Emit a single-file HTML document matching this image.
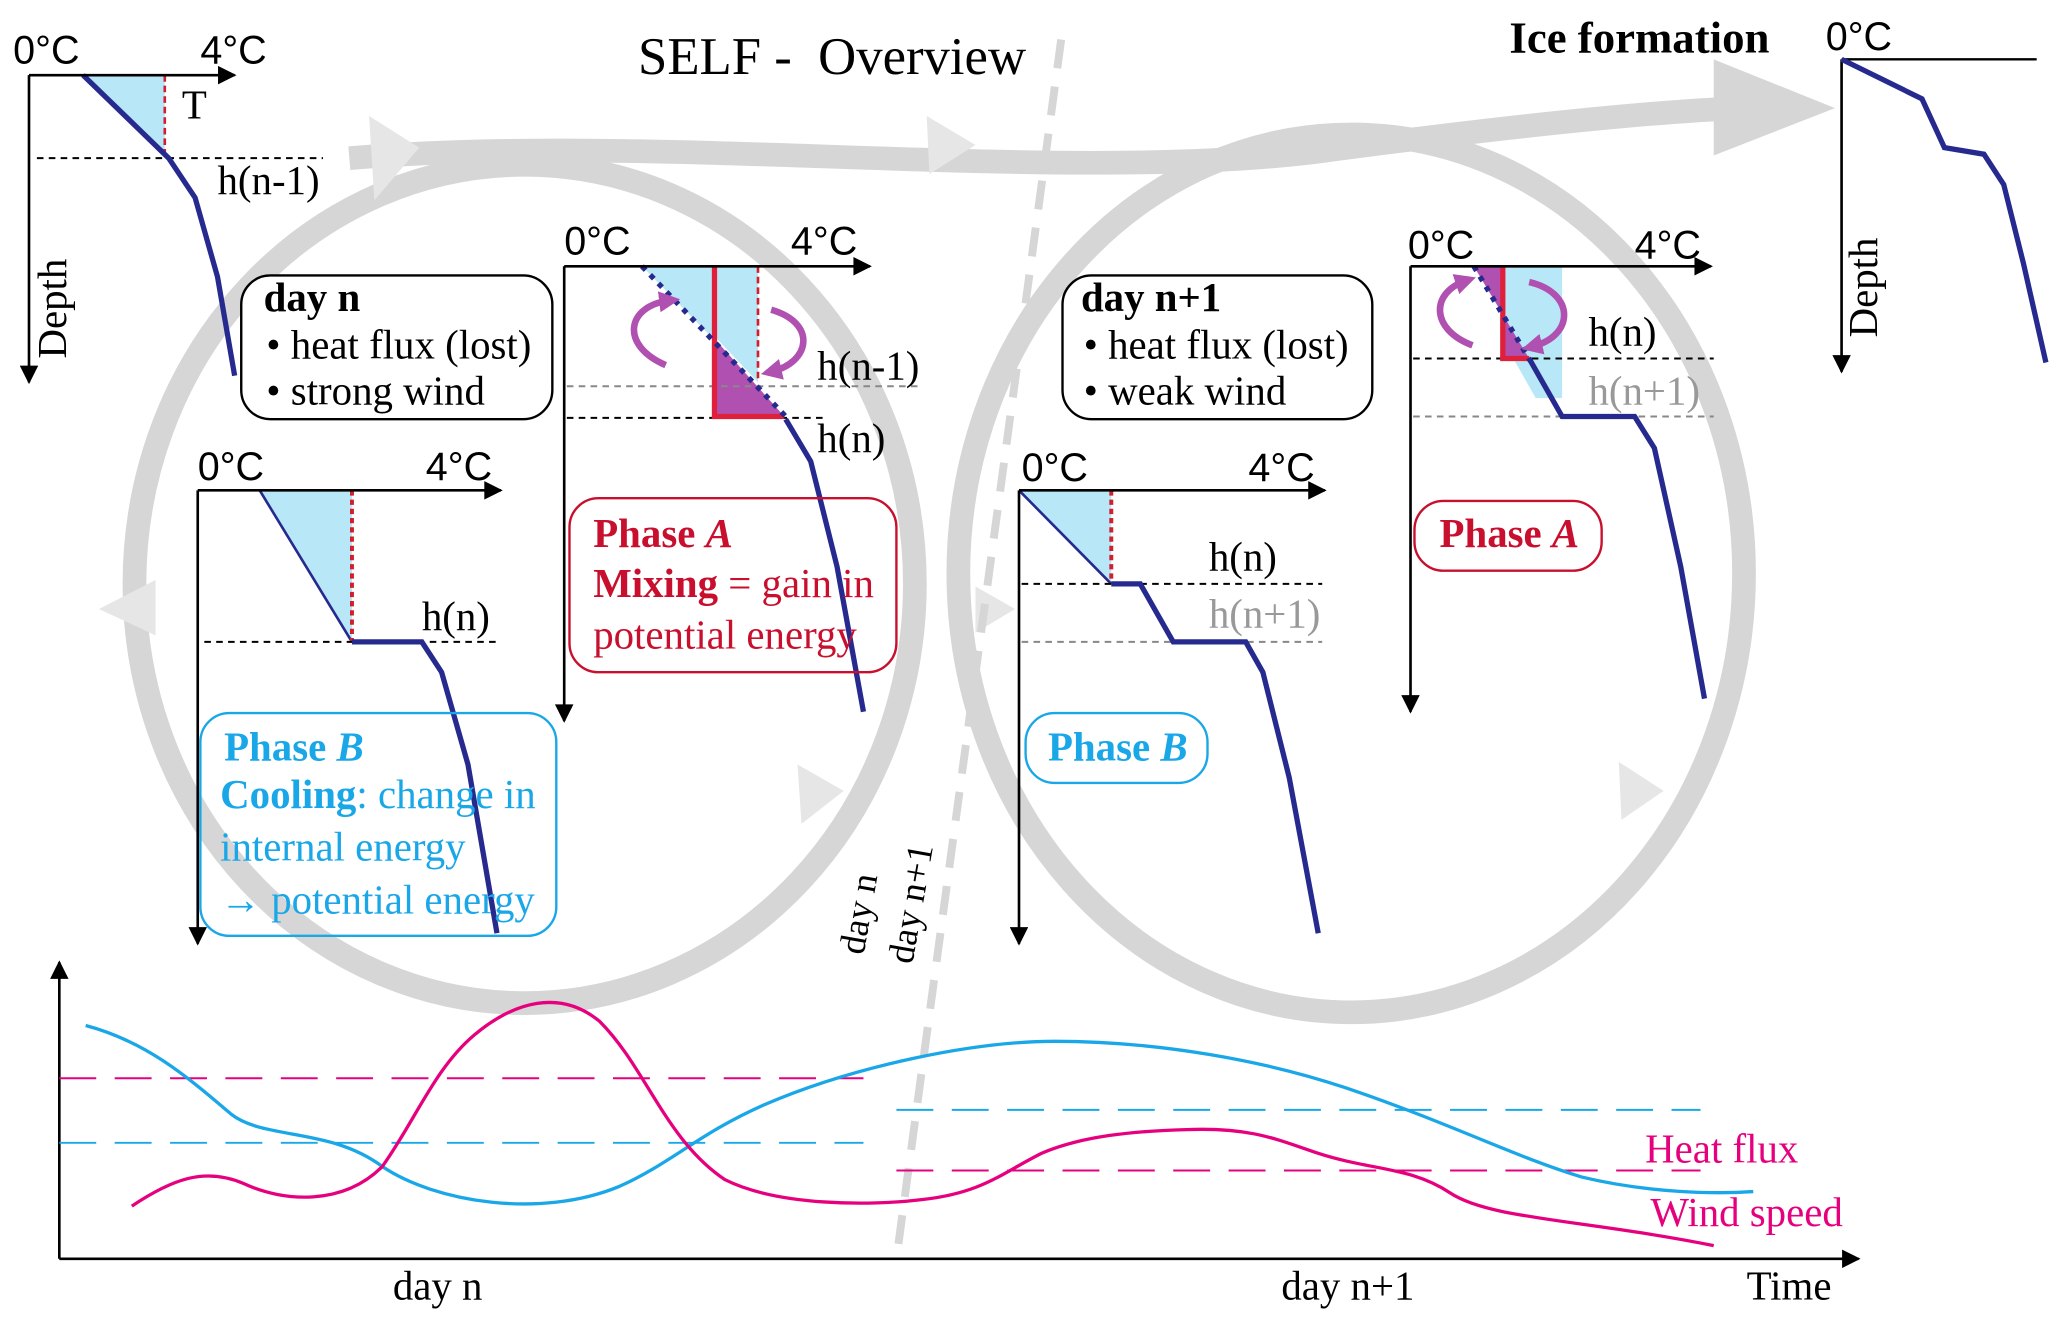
<!DOCTYPE html>
<html><head><meta charset="utf-8"><style>
html,body{margin:0;padding:0;background:#fff;}
svg{display:block;}
text{font-family:"Liberation Serif",serif;}
.s{font-family:"Liberation Sans",sans-serif;}
</style></head><body>
<svg width="2067" height="1328" viewBox="0 0 1568 1007.5" preserveAspectRatio="none" xmlns="http://www.w3.org/2000/svg">
<defs>
<marker id="ak" viewBox="0 0 10 10" markerWidth="16" markerHeight="14" refX="9" refY="5" orient="auto" markerUnits="userSpaceOnUse"><path d="M0,0 L10,5 L0,10 z" fill="#000"/></marker>
<marker id="ap" viewBox="0 0 10 10" markerWidth="16" markerHeight="16" refX="5" refY="5" orient="auto" markerUnits="userSpaceOnUse"><path d="M0,0 L10,5 L0,10 z" fill="#b050b0"/></marker>
</defs>

<!-- grey loops -->
<g fill="none" stroke="#d6d6d6" stroke-width="18">
<ellipse cx="398" cy="443" rx="296" ry="318"/>
<ellipse cx="1025" cy="435" rx="298" ry="333"/>
<path d="M265,120 C500,100 800,140 1000,115 C1150,95 1250,85 1320,82"/>
</g>
<path d="M1300,45 L1392,82 L1300,118 z" fill="#d6d6d6"/>
<g fill="#e6e6e6">
<path d="M280,88 L318,112 L284,152 z"/>
<path d="M703,88 L740,110 L705,132 z"/>
<path d="M75,462 L118,440 L118,482 z"/>
<path d="M605,580 L640,600 L608,625 z"/>
<path d="M1228,578 L1262,600 L1230,622 z"/>
<path d="M740,445 L770,462 L740,480 z"/>
</g>
<line x1="805" y1="30" x2="680" y2="955" stroke="#d6d6d6" stroke-width="6" stroke-dasharray="22,14"/>

<text x="484" y="56" font-size="40" xml:space="preserve">SELF -  Overview</text>

<!-- Profile top-left -->
<polygon points="63,57 125,57 125,120" fill="#b8e8f8"/>
<line x1="125" y1="57" x2="125" y2="120" stroke="#d0202e" stroke-width="2" stroke-dasharray="5,3"/>
<line x1="28" y1="120" x2="245" y2="120" stroke="#000" stroke-width="1.5" stroke-dasharray="5,4"/>
<polyline points="63,57 128,120 148,150 165,210 178,285" fill="none" stroke="#262a8f" stroke-width="4"/>
<line x1="22" y1="57" x2="178" y2="57" stroke="#000" stroke-width="2" marker-end="url(#ak)"/>
<line x1="22" y1="57" x2="22" y2="290" stroke="#000" stroke-width="2" marker-end="url(#ak)"/>
<text class="s" x="10" y="48" font-size="30">0°C</text>
<text class="s" x="152" y="48" font-size="30">4°C</text>
<text x="138" y="90" font-size="31">T</text>
<text x="165" y="147" font-size="31">h(n-1)</text>
<text x="0" y="0" font-size="31" transform="translate(50,272) rotate(-90)">Depth</text>

<!-- day n box -->
<rect x="183" y="209" width="236" height="109" rx="22" fill="#fff" stroke="#000" stroke-width="1.8"/>
<text x="200" y="236" font-size="31" font-weight="bold">day n</text>
<text x="202" y="272" font-size="31">• heat flux (lost)</text>
<text x="202" y="307" font-size="31">• strong wind</text>

<!-- Phase A left profile -->
<polygon points="487,202 575,202 575,290 542,255 542,202" fill="#b8e8f8"/>
<polygon points="487,202 542,202 542,258" fill="#b8e8f8"/>
<polygon points="542,257 542,316 595,316" fill="#b050b0"/>
<line x1="575" y1="202" x2="575" y2="290" stroke="#d0202e" stroke-width="2" stroke-dasharray="5,3"/>
<line x1="430" y1="293" x2="700" y2="293" stroke="#888" stroke-width="1.5" stroke-dasharray="5,4"/>
<line x1="430" y1="317" x2="625" y2="317" stroke="#000" stroke-width="1.5" stroke-dasharray="5,4"/>
<polyline points="542,202 542,316 595,316" fill="none" stroke="#e0203a" stroke-width="4"/>
<line x1="487" y1="202" x2="598" y2="318" stroke="#262a8f" stroke-width="4" stroke-dasharray="4,5"/>
<polyline points="596,318 615,350 635,430 655,540" fill="none" stroke="#262a8f" stroke-width="4"/>
<line x1="428" y1="202" x2="660" y2="202" stroke="#000" stroke-width="2" marker-end="url(#ak)"/>
<line x1="428" y1="202" x2="428" y2="547" stroke="#000" stroke-width="2" marker-end="url(#ak)"/>
<text class="s" x="428" y="193" font-size="30">0°C</text>
<text class="s" x="600" y="193" font-size="30">4°C</text>
<text x="620" y="288" font-size="31">h(n-1)</text>
<text x="620" y="343" font-size="31">h(n)</text>
<path d="M505,277 C470,262 475,232 508,228" fill="none" stroke="#b050b0" stroke-width="5" marker-end="url(#ap)"/>
<path d="M585,235 C620,245 615,275 585,282" fill="none" stroke="#b050b0" stroke-width="5" marker-end="url(#ap)"/>

<rect x="432" y="378" width="248" height="132" rx="22" fill="none" stroke="#c8102e" stroke-width="1.8"/>
<text x="450" y="415" font-size="31" font-weight="bold" fill="#c8102e">Phase <tspan font-style="italic">A</tspan></text>
<text x="450" y="453" font-size="31" fill="#c8102e"><tspan font-weight="bold">Mixing</tspan> = gain in</text>
<text x="450" y="492" font-size="31" fill="#c8102e">potential energy</text>

<!-- Phase B left profile -->
<polygon points="197,372 267,372 267,487" fill="#b8e8f8"/>
<polyline points="197,372 267,487" fill="none" stroke="#262a8f" stroke-width="2"/>
<line x1="267" y1="372" x2="267" y2="487" stroke="#d0202e" stroke-width="3" stroke-dasharray="4,3"/>
<line x1="155" y1="487" x2="380" y2="487" stroke="#000" stroke-width="1.5" stroke-dasharray="5,4"/>
<polyline points="267,487 320,487 335,510 355,580 377,708" fill="none" stroke="#262a8f" stroke-width="4"/>
<line x1="150" y1="372" x2="380" y2="372" stroke="#000" stroke-width="2" marker-end="url(#ak)"/>
<line x1="150" y1="372" x2="150" y2="716" stroke="#000" stroke-width="2" marker-end="url(#ak)"/>
<text class="s" x="150" y="364" font-size="30">0°C</text>
<text class="s" x="323" y="364" font-size="30">4°C</text>
<text x="320" y="478" font-size="31">h(n)</text>

<rect x="152" y="541" width="270" height="169" rx="22" fill="none" stroke="#1aa7e8" stroke-width="1.8"/>
<text x="170" y="577" font-size="31" font-weight="bold" fill="#1aa7e8">Phase <tspan font-style="italic">B</tspan></text>
<text x="167" y="613" font-size="31" fill="#1aa7e8"><tspan font-weight="bold">Cooling</tspan>: change in</text>
<text x="167" y="653" font-size="31" fill="#1aa7e8">internal energy</text>
<text x="167" y="693" font-size="31" fill="#1aa7e8">→ potential energy</text>

<!-- day n+1 box -->
<rect x="806" y="209" width="235" height="109" rx="22" fill="#fff" stroke="#000" stroke-width="1.8"/>
<text x="820" y="236" font-size="31" font-weight="bold">day n+1</text>
<text x="822" y="272" font-size="31">• heat flux (lost)</text>
<text x="822" y="307" font-size="31">• weak wind</text>

<!-- Phase B right profile -->
<polygon points="773,372 843,372 843,443" fill="#b8e8f8"/>
<line x1="773" y1="372" x2="843" y2="443" stroke="#262a8f" stroke-width="2"/>
<line x1="843" y1="372" x2="843" y2="443" stroke="#d0202e" stroke-width="3" stroke-dasharray="4,3"/>
<line x1="775" y1="443" x2="1003" y2="443" stroke="#000" stroke-width="1.5" stroke-dasharray="5,4"/>
<line x1="775" y1="487" x2="1003" y2="487" stroke="#888" stroke-width="1.5" stroke-dasharray="5,4"/>
<polyline points="843,443 865,443 890,487 945,487 958,510 978,590 1000,708" fill="none" stroke="#262a8f" stroke-width="4"/>
<line x1="773" y1="372" x2="1005" y2="372" stroke="#000" stroke-width="2" marker-end="url(#ak)"/>
<line x1="773" y1="372" x2="773" y2="716" stroke="#000" stroke-width="2" marker-end="url(#ak)"/>
<text class="s" x="775" y="365" font-size="30">0°C</text>
<text class="s" x="947" y="365" font-size="30">4°C</text>
<text x="917" y="433" font-size="31">h(n)</text>
<text x="917" y="476" font-size="31" fill="#999">h(n+1)</text>
<rect x="778" y="541" width="138" height="53" rx="22" fill="none" stroke="#1aa7e8" stroke-width="1.8"/>
<text x="795" y="577" font-size="31" font-weight="bold" fill="#1aa7e8">Phase <tspan font-style="italic">B</tspan></text>

<!-- Phase A right profile -->
<polygon points="1118,202 1185,202 1185,302 1165,302 1140,258 1140,202" fill="#b8e8f8"/>
<polygon points="1118,202 1140,202 1140,272 1160,272" fill="#b050b0"/>
<line x1="1072" y1="272" x2="1300" y2="272" stroke="#000" stroke-width="1.5" stroke-dasharray="5,4"/>
<line x1="1072" y1="316" x2="1300" y2="316" stroke="#888" stroke-width="1.5" stroke-dasharray="5,4"/>
<polyline points="1140,202 1140,272 1160,272" fill="none" stroke="#e0203a" stroke-width="4"/>
<line x1="1118" y1="202" x2="1161" y2="274" stroke="#262a8f" stroke-width="4" stroke-dasharray="4,5"/>
<polyline points="1160,272 1185,316 1240,316 1255,340 1275,430 1293,530" fill="none" stroke="#262a8f" stroke-width="4"/>
<line x1="1070" y1="202" x2="1298" y2="202" stroke="#000" stroke-width="2" marker-end="url(#ak)"/>
<line x1="1070" y1="202" x2="1070" y2="540" stroke="#000" stroke-width="2" marker-end="url(#ak)"/>
<text class="s" x="1068" y="196" font-size="30">0°C</text>
<text class="s" x="1240" y="196" font-size="30">4°C</text>
<text x="1205" y="262" font-size="31">h(n)</text>
<text x="1205" y="307" font-size="31" fill="#999">h(n+1)</text>
<path d="M1117,262 C1085,250 1085,222 1112,213" fill="none" stroke="#b050b0" stroke-width="5" marker-end="url(#ap)"/>
<path d="M1160,214 C1195,222 1195,255 1162,263" fill="none" stroke="#b050b0" stroke-width="5" marker-end="url(#ap)"/>
<rect x="1073" y="380" width="142" height="53" rx="22" fill="none" stroke="#c8102e" stroke-width="1.8"/>
<text x="1092" y="415" font-size="31" font-weight="bold" fill="#c8102e">Phase <tspan font-style="italic">A</tspan></text>

<!-- Ice formation -->
<text x="1145" y="40" font-size="34" font-weight="bold">Ice formation</text>
<line x1="1397" y1="45" x2="1545" y2="45" stroke="#000" stroke-width="1.8"/>
<line x1="1397" y1="45" x2="1397" y2="282" stroke="#000" stroke-width="2" marker-end="url(#ak)"/>
<text class="s" x="1385" y="38" font-size="30">0°C</text>
<polyline points="1397,45 1458,75 1475,112 1505,117 1520,140 1535,200 1552,275" fill="none" stroke="#262a8f" stroke-width="4"/>
<text x="0" y="0" font-size="31" transform="translate(1424,256) rotate(-90)">Depth</text>

<text x="0" y="0" font-size="28" transform="translate(655,725) rotate(-80)">day n</text>
<text x="0" y="0" font-size="28" transform="translate(692,732) rotate(-80)">day n+1</text>

<!-- bottom chart -->
<line x1="45" y1="955" x2="45" y2="730" stroke="#000" stroke-width="2" marker-end="url(#ak)"/>
<line x1="45" y1="955" x2="1410" y2="955" stroke="#000" stroke-width="2" marker-end="url(#ak)"/>
<g stroke-width="1.5" stroke-dasharray="28,14">
<line x1="45" y1="818" x2="655" y2="818" stroke="#e6007e"/>
<line x1="45" y1="867" x2="655" y2="867" stroke="#1aa7e8"/>
<line x1="680" y1="888" x2="1290" y2="888" stroke="#e6007e"/>
<line x1="680" y1="842" x2="1290" y2="842" stroke="#1aa7e8"/>
</g>
<path d="M65,778 C110,790 140,815 175,845 C200,865 250,855 290,885 C330,912 410,925 470,900 C510,882 530,860 580,838 C650,808 740,790 800,790 C880,790 960,805 1020,825 C1100,852 1150,878 1200,893 C1250,905 1300,906 1330,904" fill="none" stroke="#1aa7e8" stroke-width="2.5"/>
<path d="M100,915 C130,895 155,885 185,898 C215,912 260,915 290,885 C315,850 330,810 360,785 C390,760 425,750 455,775 C490,810 505,865 550,895 C590,915 660,915 700,910 C745,905 760,890 790,875 C820,862 860,858 900,857 C950,855 970,865 1000,875 C1040,888 1070,885 1100,905 C1130,925 1200,925 1300,945" fill="none" stroke="#e6007e" stroke-width="2.5"/>
<text x="1248" y="882" font-size="31" fill="#e6007e">Heat flux</text>
<text x="1252" y="930" font-size="31" fill="#e6007e">Wind speed</text>
<text x="298" y="986" font-size="31">day n</text>
<text x="972" y="986" font-size="31">day n+1</text>
<text x="1325" y="986" font-size="31">Time</text>
</svg>
</body></html>
